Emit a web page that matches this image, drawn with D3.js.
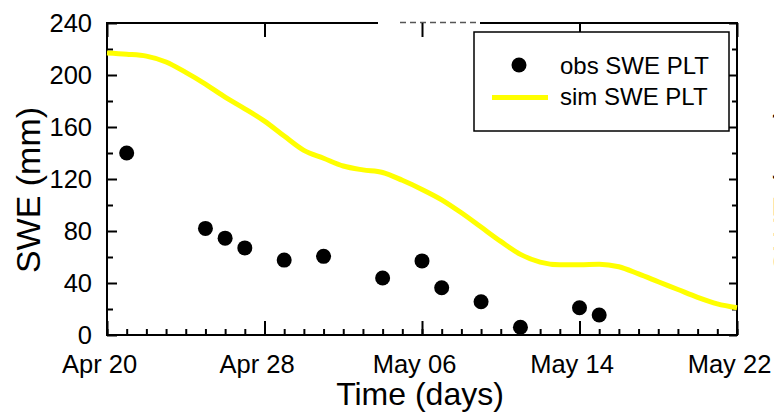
<!DOCTYPE html>
<html>
<head>
<meta charset="utf-8">
<script src="https://cdn.jsdelivr.net/npm/d3@7"></script>
<style>
  body { margin: 0; background: #fff; }
  svg { display: block; font-family: "Liberation Sans", Arial, sans-serif; }
</style>
</head>
<body>
<script>
// observed SWE at the plot (mm)
var obsDates = ["2010-04-21", "2010-04-25", "2010-04-26", "2010-04-27", "2010-04-29", "2010-05-01",
                "2010-05-04", "2010-05-06", "2010-05-07", "2010-05-09", "2010-05-11", "2010-05-14", "2010-05-15"];
var obsSWE = [140, 82, 74.5, 67, 57.6, 60.5, 43.8, 57, 36.4, 25.6, 6, 21, 15.4];

// simulated SWE, daily from Apr 20 to May 22 (mm)
var simStart = "2010-04-20";
var simSWE = [217, 216, 214.5, 210, 202, 193, 183, 174, 164.5, 153, 142, 136, 130, 127, 125, 119, 112,
              104, 94, 83, 72, 62, 56, 54, 54, 54.5, 52.5, 47, 41, 35, 29, 24, 21];

// axis ticks
var dateTicks = ["2010-04-20", "2010-04-28", "2010-05-06", "2010-05-14", "2010-05-22"];
var sweTicks = [0, 40, 80, 120, 160, 200, 240];
var legendLabels = ["obs SWE PLT", "sim SWE PLT"];

var parse = d3.utcParse("%Y-%m-%d");

var svgWidth = 774, svgHeight = 412;
var margin = { top: 23, right: 37, bottom: 77, left: 107 };
var chartWidth = svgWidth - margin.left - margin.right;
var chartHeight = svgHeight - margin.top - margin.bottom;

var svg = d3.select("body").append("svg")
  .attr("width", svgWidth)
  .attr("height", svgHeight);

var chartGroup = svg.append("g")
  .attr("transform", `translate(${margin.left}, ${margin.top})`);

var tickDates = dateTicks.map(parse);
var xScale = d3.scaleUtc()
  .domain([tickDates[0], tickDates[tickDates.length - 1]])
  .range([0, chartWidth]);

var yScale = d3.scaleLinear()
  .domain([0, 240])
  .range([chartHeight, 0]);

// simulated series as dated points
var simPoints = simSWE.map(function(v, i) {
  return { date: d3.utcDay.offset(parse(simStart), i), value: v };
});
var obsPoints = obsDates.map(function(d, i) {
  return { date: parse(d), value: obsSWE[i] };
});

// frame
chartGroup.append("rect")
  .attr("width", chartWidth)
  .attr("height", chartHeight)
  .attr("fill", "none")
  .attr("stroke", "#000")
  .attr("stroke-width", 2);

// broken stretch of the top border
chartGroup.append("rect")
  .attr("x", 271).attr("y", -5)
  .attr("width", 102).attr("height", 9)
  .attr("fill", "#fff");
chartGroup.append("line")
  .attr("x1", 293).attr("x2", 373)
  .attr("y1", -0.5).attr("y2", -0.5)
  .attr("stroke", "#555")
  .attr("stroke-width", 1.5)
  .attr("stroke-dasharray", "6,4");

function styleAxis(g) {
  g.select(".domain").remove();
  g.selectAll(".tick line").attr("stroke", "#000").attr("stroke-width", 2);
  g.selectAll("text").attr("fill", "#000").attr("font-family", null);
}

// bottom: daily minor ticks, labelled majors
chartGroup.append("g")
  .attr("transform", `translate(0, ${chartHeight})`)
  .call(d3.axisBottom(xScale).ticks(d3.utcDay.every(1)).tickSize(-6).tickFormat(""))
  .call(styleAxis);

chartGroup.append("g")
  .attr("transform", `translate(0, ${chartHeight})`)
  .call(d3.axisBottom(xScale).tickValues(tickDates).tickSize(-14).tickPadding(20)
    .tickFormat(d3.utcFormat("%b %d")))
  .call(styleAxis)
  .call(function(g) {
    g.selectAll("text").attr("font-size", 25.5).attr("dx", -8);
  });

// top: majors only
chartGroup.append("g")
  .call(d3.axisTop(xScale).tickValues(tickDates).tickSize(-14).tickFormat(""))
  .call(styleAxis);

// left
chartGroup.append("g")
  .call(d3.axisLeft(yScale).tickValues(d3.range(20, 240, 40)).tickSize(-6).tickFormat(""))
  .call(styleAxis);

chartGroup.append("g")
  .call(d3.axisLeft(yScale).tickValues(sweTicks).tickSize(-10).tickPadding(15))
  .call(styleAxis)
  .call(function(g) {
    g.selectAll("text").attr("font-size", 25.5);
  });

// right
chartGroup.append("g")
  .attr("transform", `translate(${chartWidth}, 0)`)
  .call(d3.axisRight(yScale).tickValues(d3.range(20, 240, 40)).tickSize(-5).tickFormat(""))
  .call(styleAxis);

chartGroup.append("g")
  .attr("transform", `translate(${chartWidth}, 0)`)
  .call(d3.axisRight(yScale).tickValues(sweTicks).tickSize(-8).tickFormat(""))
  .call(styleAxis);

// simulated line
var line = d3.line()
  .x(d => xScale(d.date))
  .y(d => yScale(d.value))
  .curve(d3.curveMonotoneX);

chartGroup.append("path")
  .datum(simPoints)
  .attr("d", line)
  .attr("fill", "none")
  .attr("stroke", "#ffff00")
  .attr("stroke-width", 5)
  .attr("stroke-linejoin", "round");

// observations
chartGroup.selectAll("circle.obs")
  .data(obsPoints)
  .enter()
  .append("circle")
  .attr("class", "obs")
  .attr("cx", d => xScale(d.date))
  .attr("cy", d => yScale(d.value))
  .attr("r", 7.5)
  .attr("fill", "#000");

// legend
var legend = chartGroup.append("g")
  .attr("transform", "translate(367, 9)");

legend.append("rect")
  .attr("width", 255)
  .attr("height", 99)
  .attr("fill", "#fff")
  .attr("stroke", "#000")
  .attr("stroke-width", 1.5);

legend.append("circle")
  .attr("cx", 45).attr("cy", 33)
  .attr("r", 7.5)
  .attr("fill", "#000");

legend.append("line")
  .attr("x1", 18).attr("x2", 74)
  .attr("y1", 65.5).attr("y2", 65.5)
  .attr("stroke", "#ffff00")
  .attr("stroke-width", 5);

legend.selectAll("text")
  .data(legendLabels)
  .enter()
  .append("text")
  .attr("x", 86)
  .attr("y", (d, i) => 41.5 + i * 31)
  .attr("font-size", 24)
  .attr("fill", "#000")
  .text(d => d);

// axis titles
svg.append("text")
  .attr("transform", "translate(40, 190) rotate(-90)")
  .attr("text-anchor", "middle")
  .attr("font-size", 34)
  .attr("fill", "#000")
  .text("SWE (mm)");

svg.append("text")
  .attr("x", 420)
  .attr("y", 405)
  .attr("text-anchor", "middle")
  .attr("font-size", 32)
  .attr("fill", "#000")
  .text("Time (days)");

// edge of the neighbouring panel's title
svg.append("text")
  .attr("transform", "translate(797, 190) rotate(-90)")
  .attr("text-anchor", "middle")
  .attr("font-size", 34)
  .attr("fill", "#000")
  .text("SWE (mm)");
</script>
</body>
</html>
